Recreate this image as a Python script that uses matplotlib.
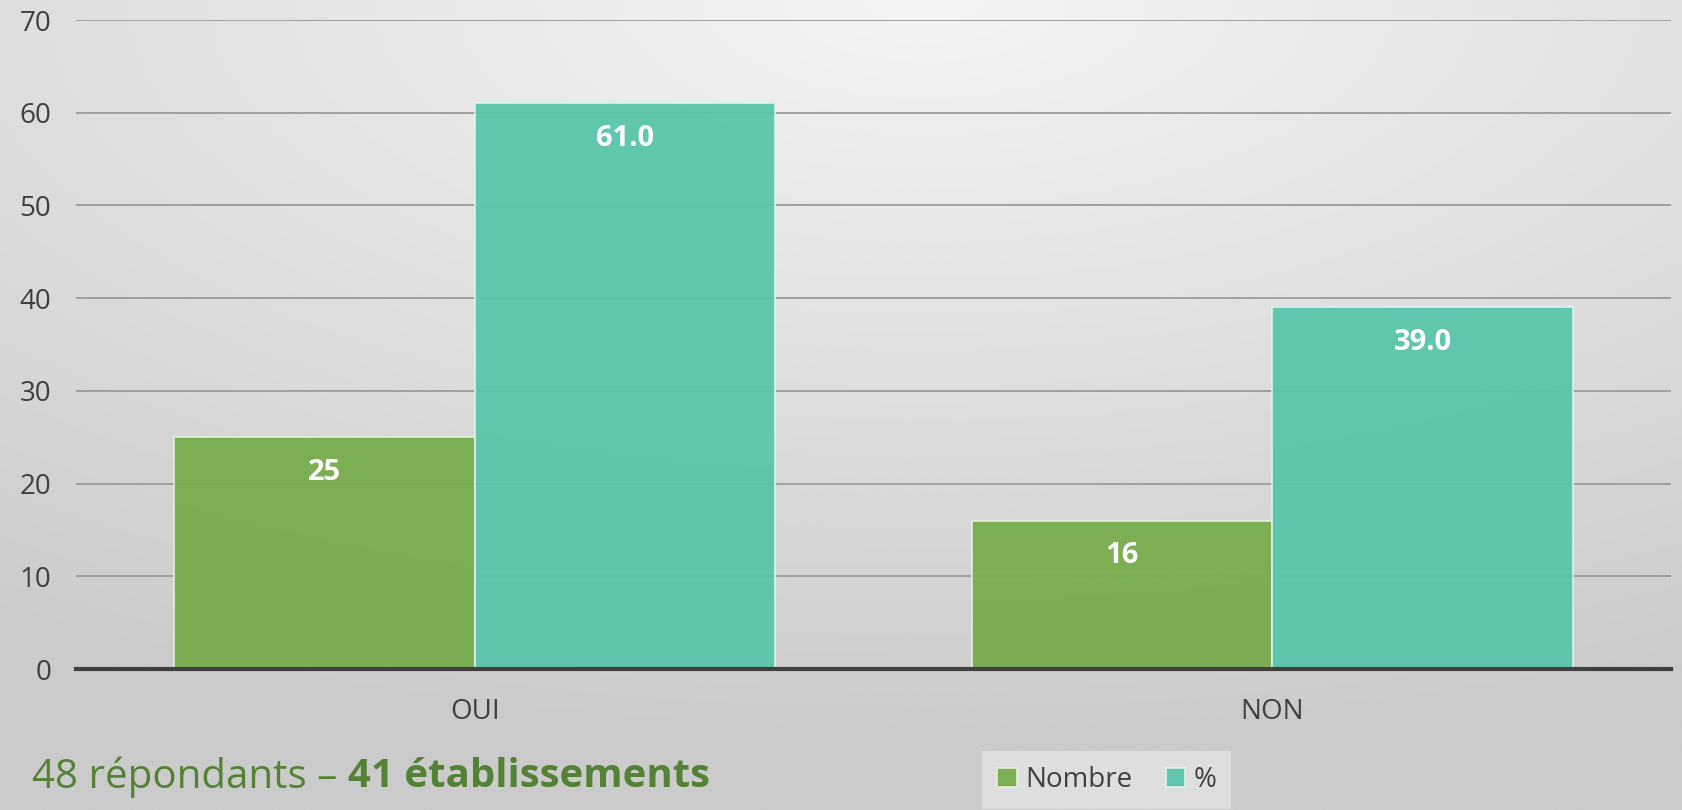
import numpy as np
import matplotlib.pyplot as plt

# Data
categories = ["OUI", "NON"]
nombre = [25, 16]
pourcent = [61.0, 39.0]
series_names = ["Nombre", "%"]
yticks = [0, 10, 20, 30, 40, 50, 60, 70]

green = "#77ac4d"
teal = "#59c5ab"

plt.rcParams['font.family'] = ['Open Sans', 'DejaVu Sans']

fig = plt.figure(figsize=(16.82, 8.10), dpi=100)

# radial gray background
bg = fig.add_axes([0, 0, 1, 1], zorder=-10)
yy, xx = np.mgrid[0:1:300j, 0:1:600j]
r = np.sqrt(((xx - 0.55) * 1.0) ** 2 + ((yy - 0.0) * 1.1) ** 2)
shade = 0.955 - 0.16 * np.clip(r / 1.0, 0, 1)
bg.imshow(shade, cmap="gray", vmin=0, vmax=1, aspect="auto", extent=[0, 1, 1, 0])
bg.set_xlim(0, 1)
bg.set_ylim(1, 0)
bg.axis("off")

ax = fig.add_axes([0.0452, 0.174, 0.9483, 0.8013])
ax.patch.set_alpha(0)

x = np.arange(len(categories))
w = 0.377
b1 = ax.bar(x - w / 2, nombre, w, color=green, alpha=0.95, edgecolor="#e8f0e0",
            linewidth=1.2, label=series_names[0], zorder=3)
b2 = ax.bar(x + w / 2, pourcent, w, color=teal, alpha=0.95, edgecolor="#e0f5ef",
            linewidth=1.2, label=series_names[1], zorder=3)

for rect, v in zip(b1, nombre):
    ax.annotate(f"{v}", (rect.get_x() + rect.get_width() / 2, v), xytext=(0, -35),
                textcoords="offset pixels", ha="center", va="center",
                color="white", fontsize=21, fontweight="bold", zorder=5)
for rect, v in zip(b2, pourcent):
    ax.annotate(f"{v:.1f}", (rect.get_x() + rect.get_width() / 2, v), xytext=(0, -35),
                textcoords="offset pixels", ha="center", va="center",
                color="white", fontsize=21, fontweight="bold", zorder=5)

ax.set_xlim(-0.5, 1.5)
ax.set_ylim(0, 70)
ax.set_yticks(yticks)
ax.set_xticks(x)
ax.set_xticklabels(categories)
ax.yaxis.grid(True, color="#9a9a9a", linewidth=1.3, zorder=0)
ax.set_axisbelow(True)
ax.tick_params(axis="y", length=0, pad=18, labelsize=20, labelcolor="#404040")
ax.tick_params(axis="x", length=0, pad=21, labelsize=20, labelcolor="#404040")
for s in ["top", "right", "left"]:
    ax.spines[s].set_visible(False)
ax.spines["bottom"].set_color("#404040")
ax.spines["bottom"].set_linewidth(3)
ax.spines["bottom"].set_zorder(6)

leg = fig.legend(handles=[b1, b2], labels=series_names, loc="center",
                 bbox_to_anchor=(0.658, 0.037), ncol=2, frameon=True,
                 fontsize=20, handlelength=0.7, handleheight=0.7,
                 handletextpad=0.3, columnspacing=1.2, borderpad=0.35,
                 labelcolor="#404040")
leg.get_frame().set_facecolor("#dedede")
leg.get_frame().set_edgecolor("none")
leg.get_frame().set_alpha(1)
leg.get_frame().set_boxstyle("square", pad=0.2)

fig.text(0.019, 0.041, "48 répondants – ", color="#548235", fontsize=29,
         ha="left", va="center")
t1 = fig.texts[-1]
fig.canvas.draw()
bb = t1.get_window_extent()
fig.text(bb.x1 / fig.bbox.width, 0.041, "41 établissements", color="#548235",
         fontsize=29, fontweight="bold", ha="left", va="center")

fig.savefig("out.png", dpi=100)
